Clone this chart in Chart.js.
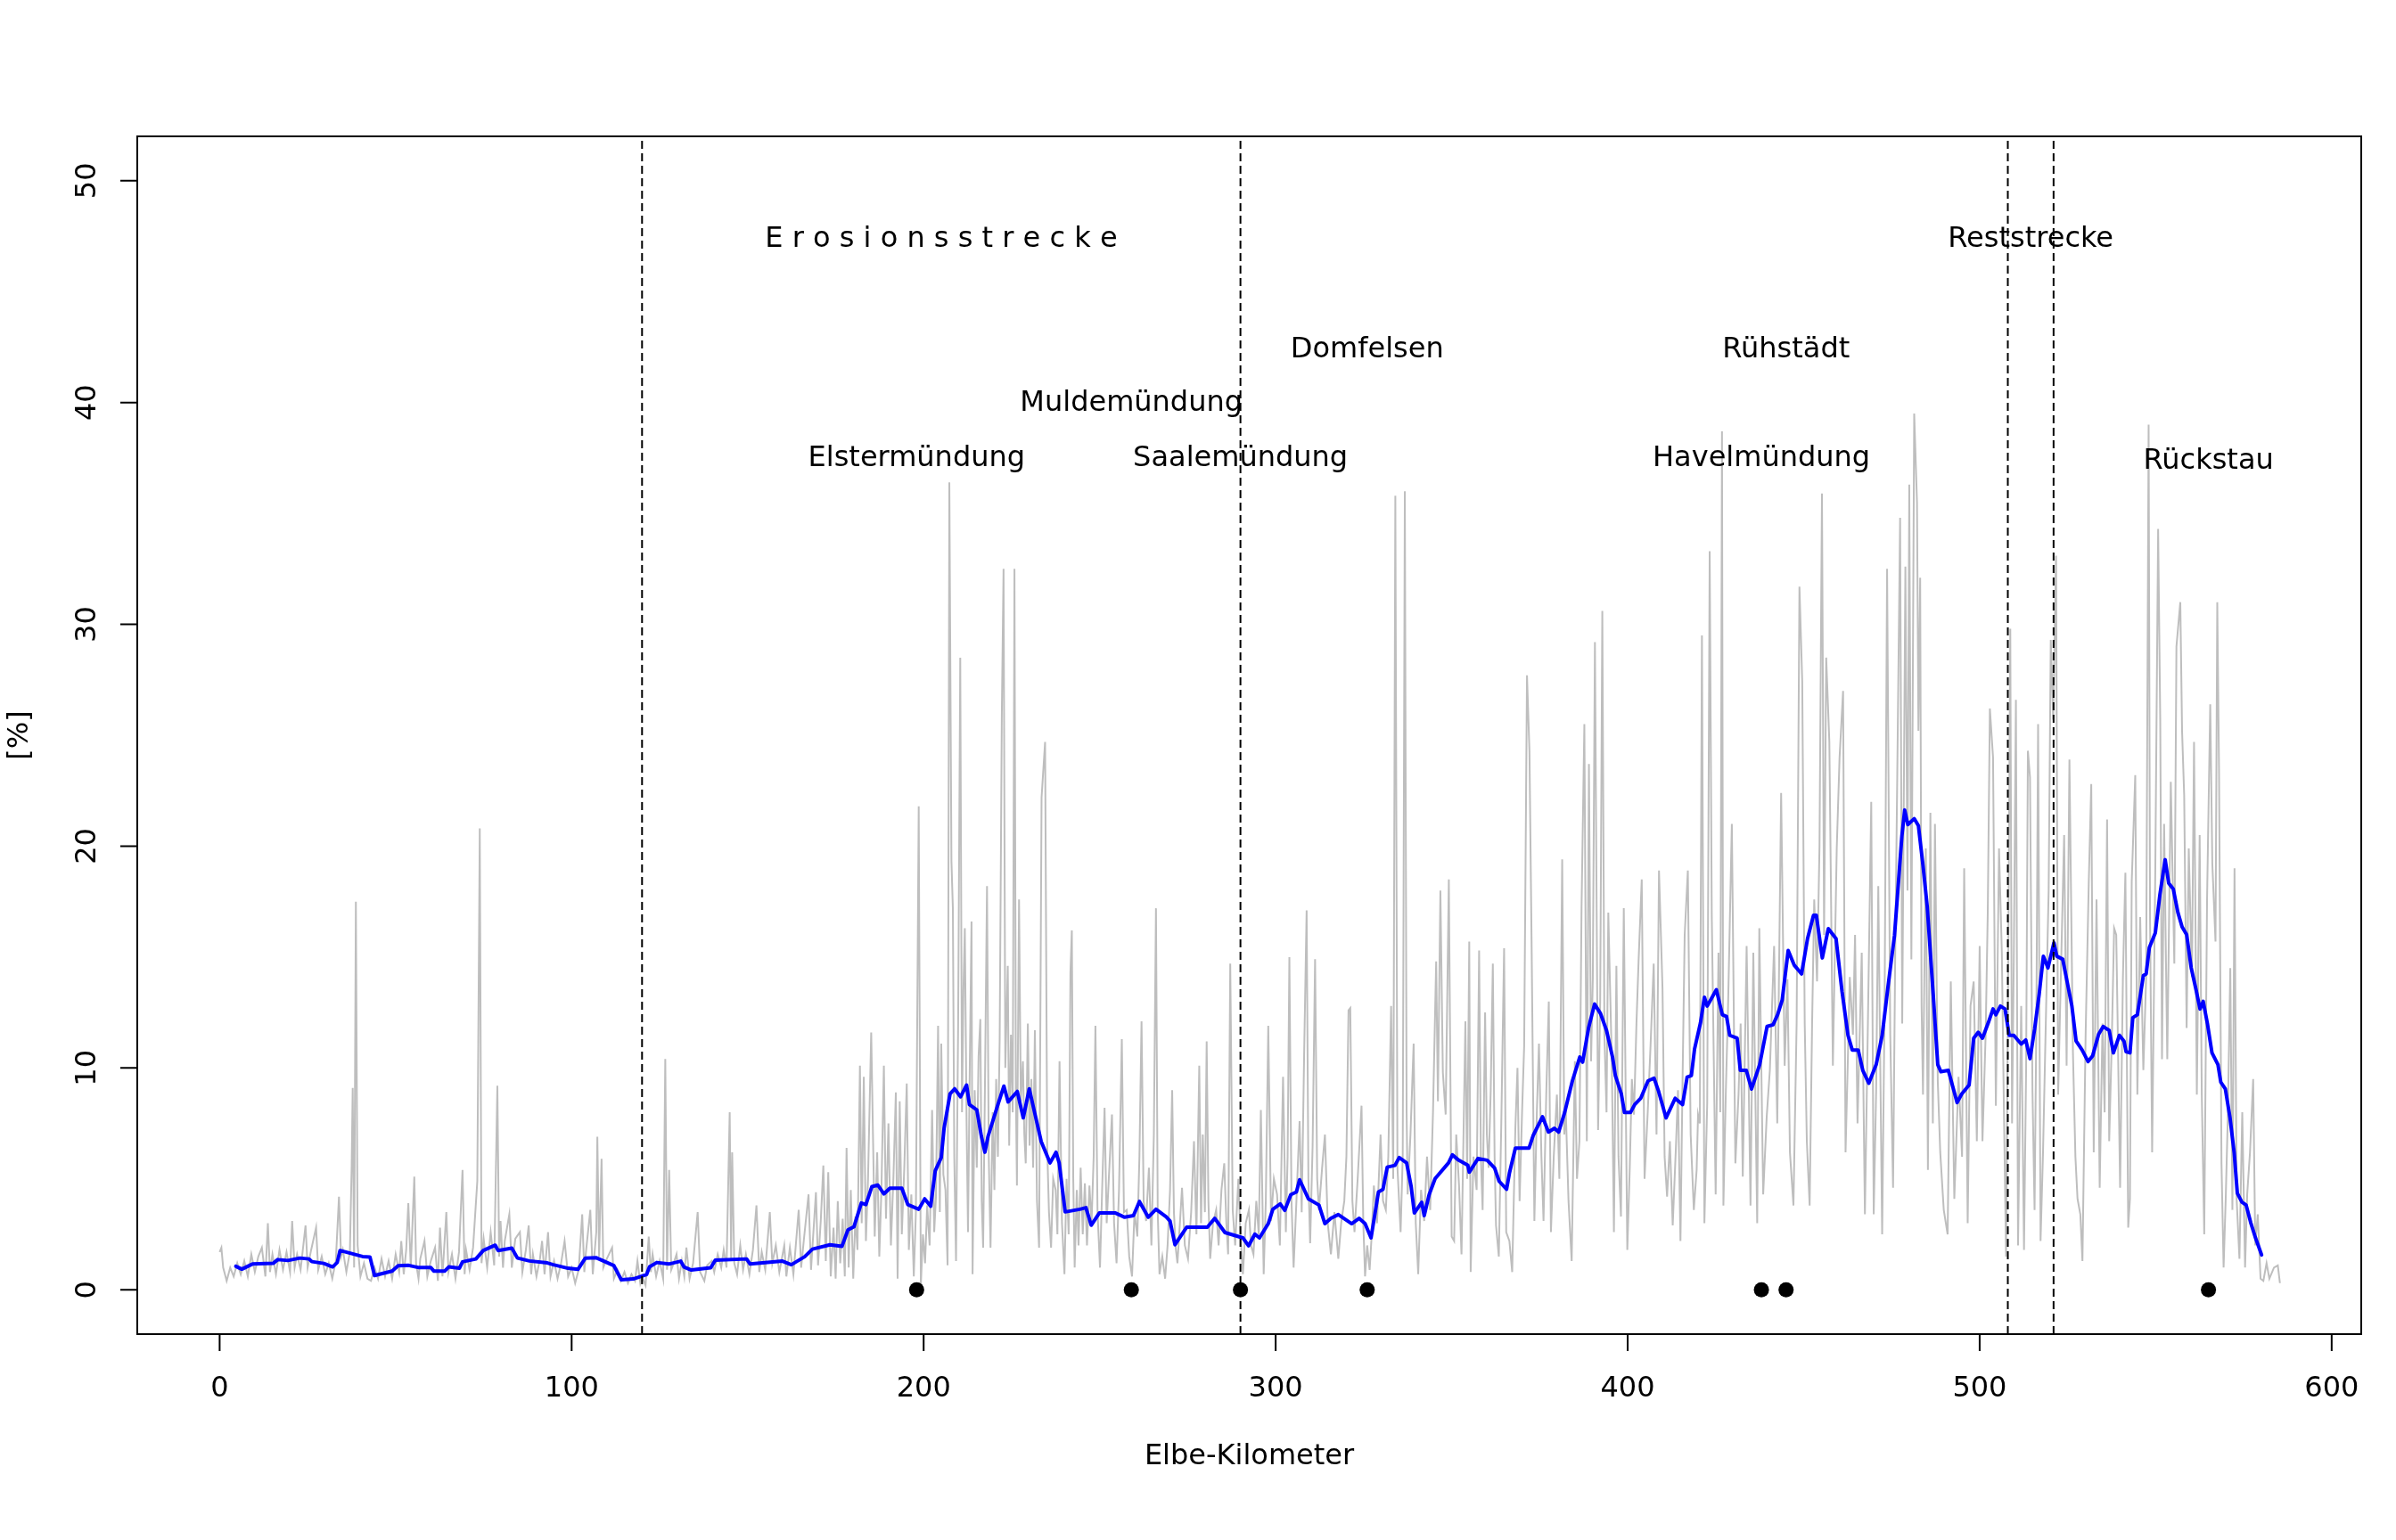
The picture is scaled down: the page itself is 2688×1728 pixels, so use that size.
<!DOCTYPE html>
<html>
<head>
<meta charset="utf-8">
<script src="https://cdn.jsdelivr.net/npm/chart.js@4.4.1/dist/chart.umd.min.js"></script>
<style>
  html, body { margin: 0; padding: 0; background: #fff; }
  canvas { display: block; }
</style>
</head>
<body>
<canvas id="elbe" width="2688" height="1728"></canvas>
<script>
// raw profile [km, %], split by river section
const grayUpper = [
  [0,1.7],[0.5,1.9],[1,1.0],[2,0.4],[3,1.0],[4,0.6],[5,1.2],[6,0.7],[7,1.3],[8,0.6],[9,1.6],[10,0.8],
  [11,1.5],[12,1.9],[13,0.6],[13.7,3.0],[14.3,0.8],[15,1.6],[16,0.7],[17,1.8],[18,0.9],[19,1.7],[20,0.8],
  [20.6,3.1],[21.3,1.0],[22,1.6],[23,0.9],[24.4,2.9],[25,1.0],[26,1.8],[27.4,2.8],[28,0.9],[29,1.5],[30,0.7],
  [31,1.2],[32,0.5],[33,1.3],[33.9,4.2],[34.5,1.5],[35,1.8],[36,0.8],[37,1.7],[37.5,5.5],[37.8,9.1],[38.2,1.0],
  [38.7,17.5],[39.2,2.0],[40,0.6],[41,1.2],[42,0.5],[43,0.4],[44,1.0],[45,0.5],[46,1.4],[47,0.6],[48,1.3],
  [49,0.5],[50,1.6],[51,0.8],[51.6,2.2],[52.3,0.7],[53,1.8],[53.6,3.9],[54.3,1.0],[55.3,5.1],[55.8,1.2],
  [56.5,0.5],[57,1.4],[58.2,2.2],[59,0.6],[60,1.3],[61.2,1.9],[62,0.4],[62.6,2.8],[63.3,0.6],[64.4,3.5],
  [65,0.8],[66,1.6],[67,0.5],[68,1.7],[69,5.4],[69.6,0.7],[70,1.8],[71,0.9],[72,1.9],[73.2,4.9],[73.9,20.8],
  [74.4,1.2],[75,2.3],[76,1.0],[77,2.6],[78,1.1],[78.9,9.2],[79.4,1.5],[79.8,3.1],[80.5,1.0],[81,2.2],
  [82.3,3.4],[83,1.0],[84,2.3],[85.3,2.6],[86,0.8],[87,1.8],[87.8,2.9],[88.5,0.7],[89,1.6],[90,0.6],[91,1.4],
  [91.6,2.2],[92.3,0.7],[93.3,2.6],[94,0.6],[95,1.3],[96,0.5],[97,1.2],[98,2.2],[99,0.6],[100,1.0],[101,0.3],
  [102,0.9],[103,3.4],[103.6,0.8],[104,1.6],[105.3,3.6],[106,0.7],[107,2.6],[107.3,6.9],[107.8,1.5],
  [108.5,5.9],[109,1.0],[110,1.4],[111.5,1.9],[112,0.5],[113,0.9],[114,0.4],[115,0.8],[116,0.3],[117,0.7],
  [118,0.4],[118.7,1.3],[119.5,0.3],[120,0.6]
];
const grayErosion = [
  [121,0.2],[121.9,2.4],[122.5,0.8],[123,1.6],[124,0.6],[125,1.3],[126,0.5],[126.6,10.4],[127.1,0.9],
  [127.7,5.4],[128.3,0.9],[129,1.2],[129.8,1.6],[130.5,0.5],[131.3,1.3],[132,0.6],[132.6,1.9],[133.5,0.5],
  [134.5,1.2],[135.8,3.5],[136.5,0.8],[137.7,0.4],[138.5,1.1],[139.8,1.3],[140.5,0.8],[141.5,1.6],[142.5,1.0],
  [143.2,1.8],[144,1.0],[144.9,8.0],[145.3,1.4],[145.6,6.2],[146.2,1.2],[147,0.7],[147.9,2.0],[148.7,0.9],
  [149.5,1.6],[150.5,0.7],[151.5,1.8],[152.5,3.8],[153.3,0.8],[154,1.7],[155,0.9],[156.3,3.5],[157,1.2],
  [158,2.0],[159,0.8],[160.4,2.0],[161,0.6],[162,1.9],[163,0.7],[164.5,3.6],[165.2,1.0],[166,2.3],[167.3,4.3],
  [168,0.9],[169.4,4.4],[170,1.1],[170.8,3.2],[171.5,5.6],[172.2,1.3],[172.9,5.3],[173.6,0.6],[174.4,2.8],
  [175,0.5],[175.6,4.0],[176.3,1.2],[177,3.2],[177.6,0.6],[178.1,6.4],[178.7,1.0],[179.3,4.5],[180,0.5],
  [180.6,3.3],[181.2,1.8],[181.9,10.1],[182.4,3.0],[183,9.6],[183.6,2.2],[184.2,5.0],[185.1,11.6],[185.6,7.0],
  [186.1,2.4],[186.8,6.2],[187.4,1.5],[188,4.5],[188.7,10.1],[189.3,3.2],[190,7.5],[190.7,2.0],[191.4,5.0],
  [192.1,8.9],[192.6,0.5],[193.2,8.5],[193.8,2.5],[194.5,5.5],[195.2,9.3],[195.8,1.8],[196.5,4.3],[197.2,0.6],
  [197.8,3.5],[198.6,21.8],[199.2,0.2],[199.8,2.5],[200.4,1.2],[201,3.8],[201.7,2.0],[202.4,8.1],[203,2.6],
  [203.5,4.2],[204.1,11.9],[204.6,3.5],[205,11.1],[205.6,5.2],[206.2,4.5],[206.8,1.1],[207.3,36.4],
  [207.9,19.3],[208.3,17.2],[208.7,6.0],[209.2,1.3],[209.8,12.0],[210.4,28.5],[210.9,8.0],[211.3,13.5],
  [211.7,16.3],[212.2,7.5],[212.6,2.6],[213.1,10.0],[213.6,16.6],[213.9,0.7],[214.5,9.0],[215.1,5.5],
  [215.6,10.5],[216.1,12.2],[216.5,4.0],[216.9,1.9],[217.4,9.0],[218,18.2],[218.5,6.0],[219,1.9],[219.6,8.0],
  [220.1,4.5],[220.6,9.5],[221.1,6.0],[221.6,11.3],[222.2,25.8],[222.7,32.5],[223.2,10.0],[223.9,14.6],
  [224.3,6.5],[224.8,11.5],[225.3,8.0],[225.8,32.5],[226.2,9.0],[226.5,4.7],[227.1,17.6],[227.6,8.5],
  [228.2,10.3],[228.6,7.0],[229,5.7],[229.6,12.0],[230.1,6.5],[230.6,9.5],[231.1,5.5],[231.6,11.7],[232.2,4.0],
  [232.8,1.9],[233.5,22.2],[234.5,24.7],[235.1,6.4],[235.6,3.5],[236.2,1.9],[236.8,5.0],[237.5,4.5],[238,2.5],
  [238.6,10.3],[239.3,3.0],[240,0.7],[240.6,5.0],[241.2,2.5],[241.7,14.3],[242.1,16.2],[242.5,5.0],[242.9,1.0],
  [243.5,4.5],[244,2.0],[244.6,5.5],[245.2,2.5],[245.8,4.8],[246.4,2.0],[247.1,4.7],[247.7,3.0],[248.3,6.0],
  [248.8,11.9],[249.4,3.5],[250.1,1.0],[250.7,4.5],[251.4,8.2],[252,3.0],[252.6,5.0],[253.5,7.9],[254.1,3.0],
  [254.8,1.2],[255.5,4.5],[256.3,11.3],[256.9,3.5],[257.7,3.6],[258.4,1.5],[259.2,0.6],[259.9,3.5],[260.7,2.4],
  [261.3,6.0],[261.9,12.1],[262.5,4.0],[263.2,3.1],[264,5.5],[264.7,2.0],[265.4,7.0],[266,17.2],[266.5,3.5],
  [267,0.7],[267.8,1.5],[268.6,0.5],[269.3,2.0],[270,4.5],[270.6,9.0],[271.1,3.5],[271.6,1.9],[272.1,1.2],
  [272.8,3.0],[273.4,4.6],[274.2,2.0],[275.1,1.4],[276,3.5],[276.8,6.7],[277.5,2.5],[278.3,10.1],[278.8,3.0],
  [279.3,7.0],[279.9,3.5],[280.4,11.2],[280.9,4.0],[281.4,1.4],[282.2,3.0],[283.1,3.6],[283.8,2.0],[284.6,4.5],
  [285.4,5.7],[286,3.0],[286.5,1.6],[287.1,14.7],[287.8,3.6],[288.5,2.0],[289.4,5.0],[290,2.5]
];
const grayMiddle = [
  [290.7,0.7],[291.5,3.0],[292.4,3.6],[293,2.0],[293.7,1.6],[294.5,4.0],[295.2,2.5],[295.8,8.1],[296.6,0.7],
  [297.2,4.0],[297.9,11.9],[298.7,3.1],[299.5,5.0],[300.4,4.3],[301.2,2.0],[302.1,9.6],[302.9,2.6],[303.4,6.0],
  [303.9,15.0],[304.5,4.0],[305.1,1.0],[305.9,4.0],[306.8,7.6],[307.4,3.5],[308.1,10.7],[308.8,17.1],[309.3,5.0],
  [309.8,2.1],[310.5,6.5],[311.2,14.9],[311.8,5.0],[312.3,3.6],[313.2,5.5],[314,7.0],[314.8,3.0],[315.7,1.6],
  [316.7,3.5],[317.8,1.4],[318.6,3.0],[319.5,4.0],[320.1,6.0],[320.7,12.6],[321.2,12.7],[321.8,4.0],[322.4,2.6],
  [323.3,5.0],[324.4,8.3],[324.9,3.0],[325.4,0.6],[326,2.0],[326.7,0.9],[327.3,2.5],[327.9,4.7],[328.8,3.0],
  [329.8,7.0],[330.5,4.0],[331.3,3.6],[332,6.0],[332.8,12.8],[333.4,5.0],[334,35.8],[334.6,5.5],[335.5,2.6],
  [336.1,6.0],[336.7,36.0],[337.2,8.0],[337.5,4.3],[338.3,7.0],[339.2,11.1],[339.8,3.0],[340.5,0.7],[341.3,4.5],
  [342.2,3.1],[343,6.0],[343.9,3.6],[344.7,8.0],[345.6,14.8],[346.1,8.5],[346.8,18.0],[347.5,9.8],[348.3,7.9],
  [349.2,18.5],[350,2.4],[350.7,2.2],[351.3,7.0],[352.1,4.7],[352.8,1.6],[353.9,12.1],[354.4,5.0],[355,15.7],
  [355.4,0.8],[356.2,6.0],[357.1,4.5],[357.8,15.3],[358.3,6.0],[358.8,3.6],[359.5,12.5],[360,7.0],[360.5,5.5],
  [361.1,9.0],[361.7,14.7],[362.2,6.0],[362.6,2.9],[363.4,1.5],[364.1,7.5],[364.9,15.4],[365.5,2.6],[366.4,2.2],
  [367.2,0.8],[368.1,7.3],[368.7,10.0],[369.3,4.0],[370,8.0],[370.6,11.0],[371.4,27.7],[372.1,24.3],[372.7,15.8],
  [373.5,3.1],[374.2,8.0],[374.8,11.1],[375.5,6.0],[376.1,3.1],[376.9,9.0],[377.6,13.0],[378.2,2.6],[379,6.0],
  [379.9,8.8],[380.6,5.0],[381.4,19.4],[382,7.0],[382.4,8.2],[383.2,4.0],[384.1,1.3],[385,10.3],[385.6,5.0],
  [386.3,6.7],[386.9,17.2],[387.7,25.5],[388.4,6.7],[389,23.7],[389.6,10.3],[390.1,14.0],[390.7,29.2],[391.6,7.2],
  [392.2,13.0],[392.8,30.6],[393.4,11.5],[394,8.0],[394.5,17.0],[395.5,10.3],[396.1,2.6],[396.8,14.6],[397.4,6.0],
  [398.1,3.3],[398.9,17.2],[399.9,1.8],[400.6,5.5],[401.2,9.5],[401.8,7.9],[402.5,12.0],[403.1,14.8],[404,18.5],
  [404.8,5.0],[405.7,8.0],[406.5,11.0],[407.4,14.7],[408.2,7.0],[408.9,18.9],[409.9,13.6],[410.5,6.0],[411.2,4.2],
  [412,6.7],[412.8,2.9],[413.7,6.4],[414.3,9.0],[415,2.2],[415.6,9.5],[416.2,16.0],[417.1,18.9],[417.9,7.0],
  [418.8,3.6],[419.6,5.4],[420,7.9],[420.5,7.5],[421.1,29.5],[421.8,3.0],[422.6,8.4],[423.3,33.3],[423.9,16.8],
  [425,4.3],[425.8,15.2],[426.3,8.0],[426.8,38.7],[427.2,3.8],[427.9,9.0],[428.5,12.6],[429.6,21.0],[430.6,5.7],
  [431.5,8.8],[432.1,12.0],[432.7,5.1],[433.8,15.5],[434.9,3.8],[435.7,15.2],[436.8,3.0],[437.4,16.3],[438.5,4.3],
  [439.5,7.8],[440.4,9.9],[441.6,15.5],[442.5,7.5],[443.6,22.4],[444.6,10.1],[445.4,14.0],[446.1,6.2],[447.1,3.8],
  [448,12.0],[448.8,31.7],[449.6,27.4],[450.3,12.0],[450.9,6.7],[451.7,3.8],[452.4,12.0],[453,17.6],[453.8,13.9],
  [454.5,20.0],[455.2,35.9],[455.8,16.0],[456.4,28.5],[457.3,24.7],[458.3,10.1],[459.4,19.9],[460.2,24.0],
  [461.2,27.0],[461.9,6.2],[462.5,10.0],[463.1,14.1],[464,11.5],[464.6,16.0],[465.3,7.5],[466.5,15.2],[467.4,3.4],
  [468.2,11.5],[469.2,22.0],[469.9,3.4],[470.6,9.0],[471.2,18.2],[472.3,2.5],[473,13.0],[473.7,32.5],[474.6,11.5],
  [475.4,4.6],[476,15.0],[476.6,23.3],[477.4,34.8],[478,12.0],[478.9,32.6],[479.5,18.0],[480,36.3],[480.6,14.9],
  [481.4,39.5],[482.2,35.5],[482.6,25.2],[483.1,32.1],[483.5,12.8],[483.9,8.8],[484.7,19.9],[485.3,5.4],
  [486,21.5],[486.7,7.5],[487.3,21.0],[488.1,9.4],[488.8,6.2],[489.8,3.6],[490.9,2.5],[491.8,13.9],[492.8,4.1],
  [494,9.6],[495,6.0],[495.6,19.0],[496.6,3.0],[497.4,12.8],[498.3,13.9],[499.2,6.7],[500,15.5],[500.8,6.7],
  [501.7,11.5],[502.3,17.0],[502.9,26.2],[503.8,24.0],[504.6,8.3],[505.5,19.9],[506.3,15.2],[506.9,8.0],
  [507.5,1.5],[508,12.0]
];
const grayLower = [
  [508.7,29.8],[509.2,7.5],[509.7,15.0],[510.3,26.6],[510.9,2.0],[511.8,12.8],[512.6,1.8],[513.2,10.0],
  [513.7,24.3],[514.3,23.1],[515,9.0],[515.6,3.6],[516.1,12.0],[516.6,25.5],[517.3,2.2],[518,6.2],[519,13.6],
  [519.6,18.0],[520.2,29.3],[520.9,25.7],[521.7,33.1],[522.3,8.8],[523.1,14.4],[524,20.5],[524.7,10.1],
  [525.5,23.9],[526.5,10.7],[527.2,6.0],[527.8,4.1],[528.6,3.4],[529.2,1.3],[530.1,11.5],[531,18.4],[531.7,22.8],
  [532.4,6.2],[533.2,17.6],[534.1,4.6],[534.9,12.0],[535.5,8.0],[536.2,21.2],[536.8,6.7],[537.5,11.0],
  [538.2,16.3],[538.8,16.0],[539.2,12.0],[539.9,4.6],[540.7,14.1],[541.4,18.8],[542.2,2.8],[542.7,4.1],
  [543.2,18.4],[544.2,23.2],[544.8,8.8],[545.6,16.8],[546.5,9.9],[547.3,14.1],[548,39.0],[548.4,16.8],[549,6.2],
  [549.9,19.0],[550.7,34.3],[551.3,25.7],[551.8,10.4],[552.4,21.0],[553.3,10.4],[554.3,22.9],[555.3,14.7],
  [555.9,29.0],[557,31.0],[557.5,25.2],[558.1,22.3],[558.8,11.8],[559.4,19.9],[560.3,14.1],[560.9,24.7],
  [561.7,8.8],[562.5,20.5],[563.1,8.8],[563.8,2.5],[564.6,17.6],[565.5,26.4],[566.1,19.2],[567,15.7],[567.5,31.0],
  [568,23.4],[568.7,5.7],[569.3,1.0],[569.9,4.1],[570.5,7.8],[571.2,14.5],[571.8,3.6],[572.4,19.0],[573,4.1],
  [573.8,1.4],[574.6,8.0],[575.4,1.0],[576,4.3],[576.8,6.2],[577.7,9.5],[578.3,2.0],[579,3.4],[579.8,0.5],
  [580.6,0.4],[581.5,1.2],[582.3,0.5],[583.6,1.0],[584.7,1.1],[585.3,0.3]
];

// smoothed profile [km, %]
const bluePoints = [
  [4.6,1.06],[6.3,0.93],[9.3,1.16],[15.2,1.19],[16.5,1.36],[19.4,1.32],[22.8,1.43],[25.4,1.39],[26.2,1.27],
  [29.6,1.19],[32.1,1.03],[33.4,1.23],[34.2,1.77],[38.0,1.61],[40.6,1.50],[42.7,1.48],[44.0,0.64],[45.7,0.71],
  [49.0,0.84],[50.7,1.08],[53.7,1.10],[56.6,1.00],[60.0,1.00],[60.9,0.84],[63.9,0.84],[65.1,1.03],[68.1,0.97],
  [69.0,1.26],[72.8,1.39],[74.9,1.77],[78.3,2.01],[79.1,1.77],[83.0,1.88],[84.6,1.43],[88.0,1.30],[93.1,1.21],
  [94.8,1.13],[99.0,0.97],[101.8,0.92],[103.9,1.43],[106.9,1.45],[112.0,1.09],[114.1,0.45],[117.5,0.49],
  [121.3,0.69],[122.1,1.03],[124.2,1.23],[127.6,1.16],[131.0,1.29],[131.9,1.03],[134.0,0.89],[139.5,0.99],
  [140.8,1.33],[149.7,1.39],[150.7,1.16],[159.9,1.29],[162.4,1.13],[166.2,1.49],[168.4,1.83],[173.4,2.03],
  [176.8,1.96],[178.5,2.70],[180.2,2.84],[182.3,3.91],[183.6,3.84],[185.3,4.65],[187.0,4.72],[188.7,4.32],
  [190.4,4.58],[193.8,4.58],[195.5,3.84],[198.6,3.63],[200.3,4.10],[202.0,3.77],[203.3,5.37],[205.0,5.96],
  [205.8,7.28],[207.5,8.83],[208.8,9.06],[210.5,8.70],[212.2,9.23],[213.0,8.35],[215.1,8.11],[216.4,6.92],
  [217.4,6.20],[218.3,6.92],[221.1,8.35],[222.8,9.18],[224.0,8.47],[226.6,8.94],[228.3,7.75],[230.0,9.06],
  [231.7,7.87],[233.4,6.68],[235.9,5.72],[237.6,6.20],[238.5,5.72],[240.2,3.51],[244.4,3.63],[246.1,3.70],
  [247.6,2.91],[249.9,3.46],[254.5,3.46],[257.1,3.27],[259.6,3.34],[261.3,3.98],[263.8,3.27],[266.0,3.63],
  [268.9,3.29],[270.0,3.10],[271.4,2.03],[274.7,2.82],[280.6,2.82],[282.7,3.22],[285.6,2.58],[290.7,2.34],
  [292.3,1.98],[294.1,2.51],[295.4,2.34],[297.9,2.98],[299.2,3.63],[301.3,3.87],[302.6,3.58],[304.3,4.29],
  [305.9,4.41],[306.8,4.96],[309.3,4.10],[312.3,3.82],[314.0,2.98],[315.7,3.22],[317.8,3.39],[321.6,2.98],
  [323.7,3.22],[325.4,2.98],[327.1,2.34],[329.2,4.41],[330.5,4.53],[331.7,5.53],[333.9,5.61],[335.1,5.96],
  [337.2,5.72],[338.5,4.65],[339.4,3.46],[341.5,3.94],[342.2,3.34],[343.6,4.29],[345.3,5.01],[349.1,5.72],
  [350.2,6.08],[352.0,5.84],[354.6,5.61],[355.0,5.30],[357.5,5.92],[360.1,5.84],[362.2,5.49],[363.5,4.89],
  [365.6,4.53],[366.4,5.25],[368.1,6.39],[372.0,6.39],[373.2,6.97],[375.8,7.80],[377.5,7.11],[379.2,7.28],
  [380.4,7.11],[382.1,7.99],[384.3,9.42],[386.4,10.49],[387.2,10.26],[388.9,11.81],[390.6,12.88],[392.3,12.45],
  [394.0,11.69],[395.7,10.49],[396.5,9.66],[398.2,8.83],[399.1,7.99],[400.8,7.99],[402.0,8.35],[403.7,8.63],
  [405.8,9.42],[407.5,9.54],[408.8,8.94],[410.9,7.75],[413.5,8.63],[415.6,8.35],[416.9,9.59],[418.1,9.66],
  [419.0,10.85],[420.7,12.04],[421.8,13.19],[422.6,12.79],[425.2,13.53],[426.9,12.40],[428.1,12.32],
  [429.0,11.47],[431.1,11.34],[432.0,9.89],[433.7,9.89],[435.2,9.05],[437.5,10.15],[439.6,11.87],[441.3,11.95],
  [442.6,12.40],[443.9,13.06],[445.6,15.30],[447.3,14.64],[449.4,14.24],[451.1,15.83],[452.8,16.88],
  [453.6,16.88],[455.3,14.96],[457.0,16.28],[459.2,15.83],[460.9,13.45],[462.6,11.47],[463.8,10.81],
  [465.5,10.81],[466.8,9.89],[468.5,9.31],[470.6,10.15],[472.3,11.47],[474.0,13.72],[475.8,15.96],[477.9,20.45],
  [478.7,21.63],[479.6,20.97],[481.4,21.24],[482.6,20.92],[483.9,19.13],[485.1,17.28],[486.8,13.32],
  [488.1,10.15],[489.0,9.83],[491.1,9.89],[493.6,8.44],[494.9,8.83],[497.0,9.23],[498.3,11.34],[499.6,11.61],
  [500.8,11.34],[502.5,12.06],[503.8,12.66],[504.6,12.40],[505.9,12.79],[507.2,12.66],[508.4,11.47],
  [509.7,11.47],[511.8,11.08],[513.1,11.26],[514.3,10.42],[515.6,11.74],[516.9,13.32],[518.1,15.04],
  [519.4,14.51],[521.1,15.64],[521.9,15.04],[523.6,14.90],[524.9,13.85],[526.2,12.79],[527.4,11.21],
  [529.1,10.81],[530.8,10.29],[532.1,10.55],[533.8,11.52],[535.1,11.87],[536.8,11.69],[538.0,10.68],
  [539.7,11.47],[541.0,11.21],[541.6,10.73],[542.7,10.68],[543.5,12.27],[544.8,12.40],[546.5,14.16],
  [547.3,14.24],[548.2,15.43],[549.9,16.09],[551.2,17.81],[552.7,19.39],[553.7,18.33],[555.0,18.07],
  [556.3,17.02],[557.5,16.36],[558.8,16.01],[560.1,14.51],[561.4,13.58],[562.6,12.66],[563.5,13.00],
  [564.7,12.00],[566.0,10.68],[567.7,10.15],[568.5,9.36],[569.8,9.05],[571.1,7.78],[572.3,6.19],[573.2,4.35],
  [574.5,3.95],[575.7,3.82],[577.0,3.03],[578.3,2.37],[580.1,1.57]
];

// section boundaries (dashed) and landmarks
const boundaryKm = [120, 290, 508, 521];
const markerKm = [198, 259, 290, 326, 438, 445, 565];
const labelText = ["E r o s i o n s s t r e c k e", "Reststrecke", "Domfelsen", "Rühstädt",
  "Muldemündung", "Elstermündung", "Saalemündung", "Havelmündung", "Rückstau"];
const labelKm = [205, 514.5, 326, 445, 259, 198, 290, 438, 565];
const labelPct = [47.5, 47.5, 42.5, 42.5, 40.1, 37.6, 37.6, 37.6, 37.5];

const xTicks = [0, 100, 200, 300, 400, 500, 600];
const yTicks = [0, 10, 20, 30, 40, 50];
const xLimits = [-23.4, 608.4];
const yLimits = [-2, 52];

const FONT = '32px "DejaVu Sans"';

const toXY = pts => pts.map(p => ({ x: p[0], y: p[1] }));

const datasets = [
  {
    data: toXY([...grayUpper, ...grayErosion, ...grayMiddle, ...grayLower]),
    borderColor: "#BEBEBE", borderWidth: 2, showLine: true, pointRadius: 0, order: 5
  },
  {
    data: toXY(bluePoints),
    borderColor: "#0000FF", borderWidth: 4, showLine: true, pointRadius: 0, order: 4,
    borderJoinStyle: "round", borderCapStyle: "round"
  },
  ...boundaryKm.map(km => ({
    data: [{ x: km, y: yLimits[0] }, { x: km, y: yLimits[1] }],
    borderColor: "#000", borderWidth: 2, borderDash: [9, 5], showLine: true, pointRadius: 0, order: 3
  })),
  {
    data: markerKm.map(km => ({ x: km, y: 0 })),
    backgroundColor: "#000", borderWidth: 0, pointRadius: 8.5, showLine: false, order: 1
  }
];

// R-style box, axes and text annotations
const rStyle = {
  id: "rStyle",
  beforeDraw(chart) {
    const ctx = chart.ctx;
    ctx.save();
    ctx.fillStyle = "#fff";
    ctx.fillRect(0, 0, chart.width, chart.height);
    ctx.restore();
  },
  afterDraw(chart) {
    const { ctx, chartArea: a, scales: { x, y } } = chart;
    ctx.save();
    ctx.strokeStyle = "#000";
    ctx.fillStyle = "#000";
    ctx.lineWidth = 2;
    ctx.strokeRect(a.left, a.top, a.right - a.left, a.bottom - a.top);

    ctx.font = FONT;
    // x axis
    ctx.textAlign = "center";
    ctx.textBaseline = "alphabetic";
    ctx.beginPath();
    ctx.moveTo(x.getPixelForValue(xTicks[0]), a.bottom);
    ctx.lineTo(x.getPixelForValue(xTicks[xTicks.length - 1]), a.bottom);
    xTicks.forEach(v => {
      const px = x.getPixelForValue(v);
      ctx.moveTo(px, a.bottom);
      ctx.lineTo(px, a.bottom + 19);
    });
    ctx.stroke();
    xTicks.forEach(v => ctx.fillText(String(v), x.getPixelForValue(v), a.bottom + 70));
    ctx.fillText("Elbe-Kilometer", (a.left + a.right) / 2, a.bottom + 146);

    // y axis
    ctx.beginPath();
    ctx.moveTo(a.left, y.getPixelForValue(yTicks[0]));
    ctx.lineTo(a.left, y.getPixelForValue(yTicks[yTicks.length - 1]));
    yTicks.forEach(v => {
      const py = y.getPixelForValue(v);
      ctx.moveTo(a.left, py);
      ctx.lineTo(a.left - 19, py);
    });
    ctx.stroke();
    yTicks.forEach(v => {
      ctx.save();
      ctx.translate(a.left - 47, y.getPixelForValue(v));
      ctx.rotate(-Math.PI / 2);
      ctx.fillText(String(v), 0, 0);
      ctx.restore();
    });
    ctx.save();
    ctx.translate(a.left - 123, (a.top + a.bottom) / 2);
    ctx.rotate(-Math.PI / 2);
    ctx.fillText("[%]", 0, 0);
    ctx.restore();

    // annotations
    labelText.forEach((t, i) => {
      ctx.fillText(t, x.getPixelForValue(labelKm[i]), y.getPixelForValue(labelPct[i]) + 11.7);
    });
    ctx.restore();
  }
};

new Chart(document.getElementById("elbe"), {
  type: "scatter",
  data: { datasets },
  options: {
    responsive: false,
    animation: false,
    devicePixelRatio: 1,
    layout: { padding: { left: 154, right: 39, top: 153, bottom: 231 } },
    scales: {
      x: { type: "linear", min: xLimits[0], max: xLimits[1], display: false },
      y: { type: "linear", min: yLimits[0], max: yLimits[1], display: false }
    },
    plugins: { legend: { display: false }, tooltip: { enabled: false } },
    elements: { line: { tension: 0 } }
  },
  plugins: [rStyle]
});
</script>
</body>
</html>
